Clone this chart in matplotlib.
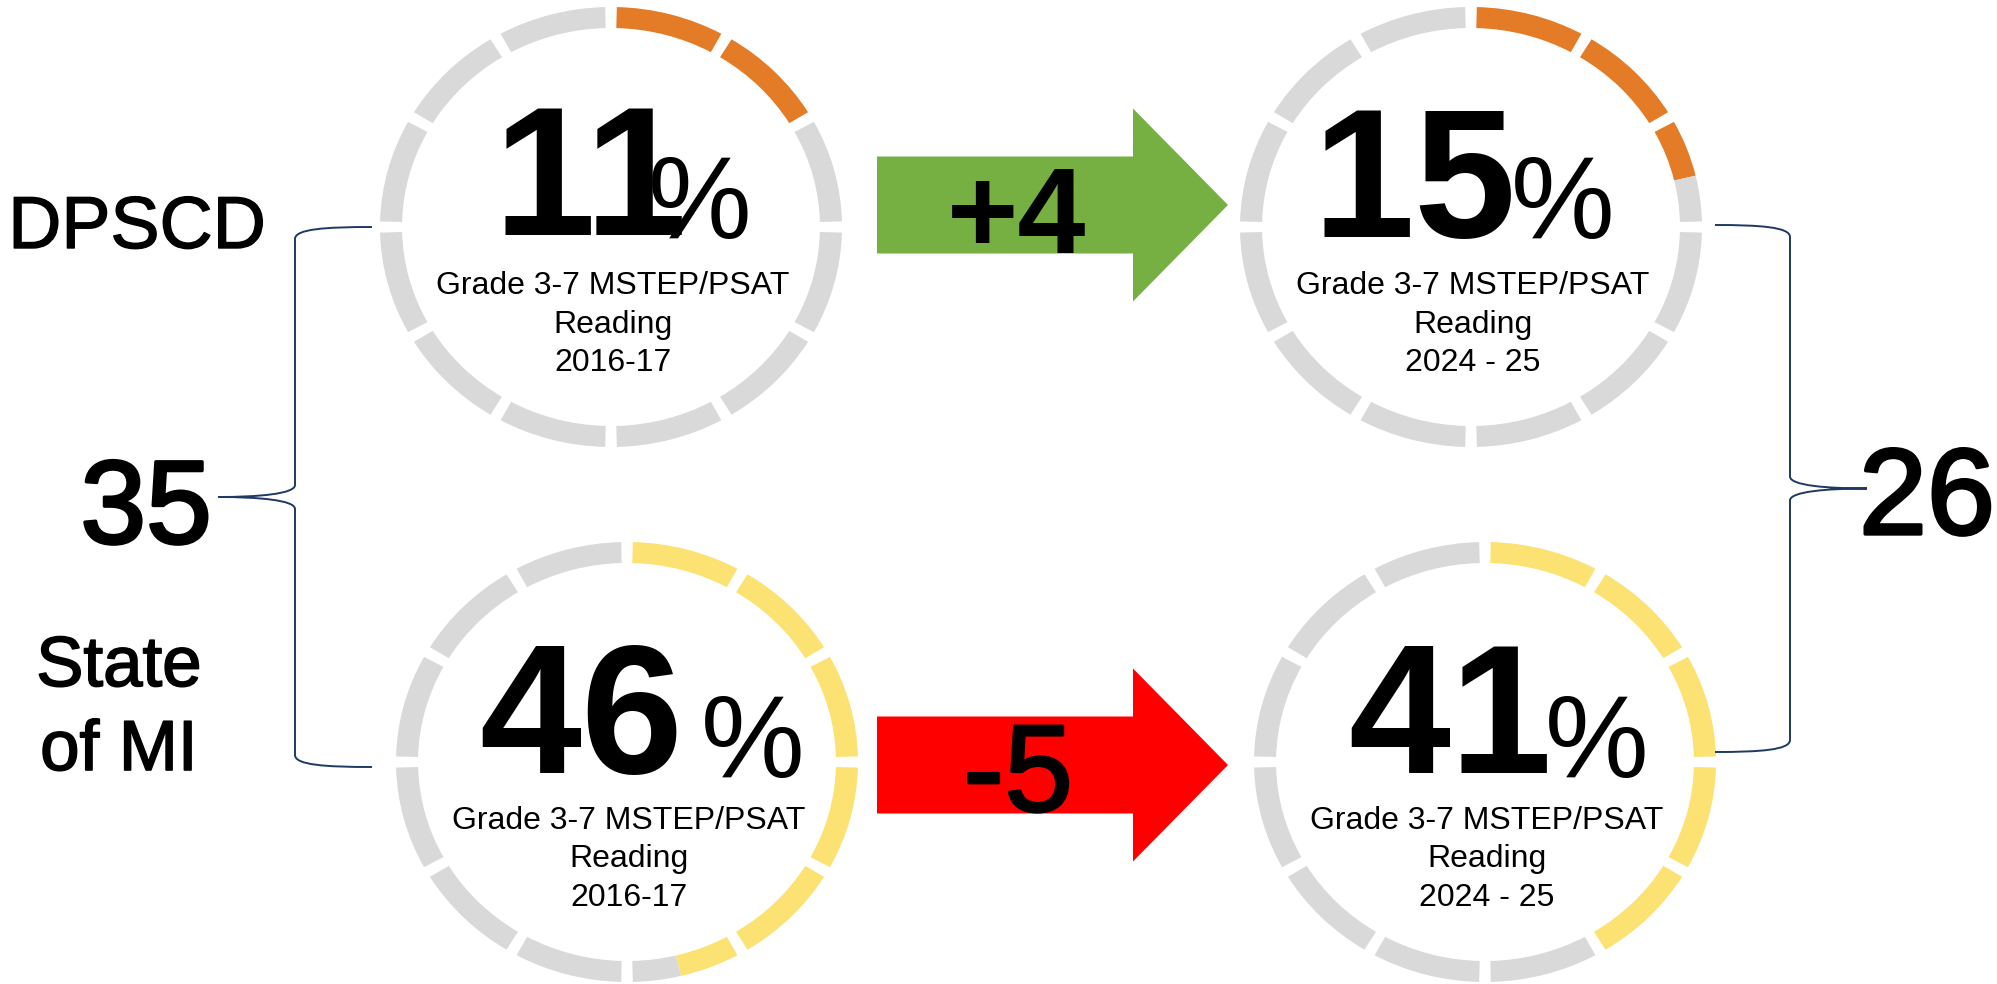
import matplotlib
matplotlib.use("Agg")
import matplotlib.pyplot as plt
from matplotlib import font_manager
import matplotlib.patheffects as pe
from matplotlib.patches import Wedge, FancyArrow, PathPatch
from matplotlib.path import Path
from matplotlib.transforms import Affine2D

plt.rcParams["font.family"] = ["Liberation Sans", "DejaVu Sans"]

# ---------------- data ----------------
groups = ["DPSCD", "State of MI"]
periods = ["2016-17", "2024 - 25"]
dpscd_pct = [11, 15]
state_pct = [46, 41]
# number of lit ring segments (out of 12) as drawn in the graphic
dpscd_ring_fill = [2.0, 2.55]
state_ring_fill = [5.55, 5.0]
changes = ["+4", "-5"]
gap_values = ["35", "26"]
subtitle_lines = ["Grade 3-7 MSTEP/PSAT", "Reading"]

# ---------------- style / layout ----------------
W, H = 1997, 984
GRAY = "#D9D9D9"
ORANGE = "#E37B27"
YELLOW = "#FBE273"
GREEN = "#76B043"
RED = "#FF0000"
NAVY = "#1F3864"
N_SEG = 12
RX, RY, THICK = 231, 220, 21
HALF_GAP = 1.45  # degrees

_names = {f.name for f in font_manager.fontManager.ttflist}
if "Liberation Sans Narrow" in _names:
    PCT_FAMILY, PCT_SIZE = ["Liberation Sans Narrow", "DejaVu Sans"], 90
else:
    PCT_FAMILY, PCT_SIZE = ["Liberation Sans", "DejaVu Sans"], 84


def heavy(lw):
    return [pe.withStroke(linewidth=lw, foreground="black")]


fig = plt.figure(figsize=(W / 100, H / 100), dpi=100)
ax = fig.add_axes([0, 0, 1, 1])
ax.set_xlim(0, W)
ax.set_ylim(H, 0)
ax.axis("off")

centers = [[(611, 227), (1471, 227)], [(627, 762), (1485, 762)]]
ring_colors = [ORANGE, YELLOW]
# (digits dx, digits dy, pct dx, pct dy) offsets from circle centre
num_offsets = [[(-21, 8, 89, 11), (-56, 10, 92, 11)],
               [(-46, 11, 126, 15), (-35, 11, 112, 15)]]
values = [dpscd_pct, state_pct]
fills = [dpscd_ring_fill, state_ring_fill]


def ring(cx, cy, fill, color):
    tr = Affine2D().scale(RX, -RY).translate(cx, cy) + ax.transData
    w = THICK / RY
    step = 360 / N_SEG
    for k in range(N_SEG):
        t2 = 90 - step * k - HALF_GAP
        t1 = 90 - step * (k + 1) + HALF_GAP
        if k + 1 <= fill:
            ax.add_patch(Wedge((0, 0), 1, t1, t2, width=w, color=color,
                               transform=tr, lw=0))
        elif k < fill:
            split = 90 - step * fill
            ax.add_patch(Wedge((0, 0), 1, split, t2, width=w, color=color,
                               transform=tr, lw=0))
            ax.add_patch(Wedge((0, 0), 1, t1, split, width=w, color=GRAY,
                               transform=tr, lw=0))
        else:
            ax.add_patch(Wedge((0, 0), 1, t1, t2, width=w, color=GRAY,
                               transform=tr, lw=0))


for g in range(2):
    for p in range(2):
        cx, cy = centers[g][p]
        ring(cx, cy, fills[g][p], ring_colors[g])
        ddx, ddy, pdx, pdy = num_offsets[g][p]
        ax.text(cx + ddx, cy + ddy, f"{values[g][p]}", ha="center",
                va="baseline", fontsize=132, fontweight="bold", color="black")
        ax.text(cx + pdx, cy + pdy, "%", ha="center", va="baseline",
                fontsize=PCT_SIZE, family=PCT_FAMILY, color="black")
        lines = subtitle_lines + [periods[p]]
        for i, ln in enumerate(lines):
            ax.text(cx + 2, cy + 67 + 38.5 * i, ln, ha="center",
                    va="baseline", fontsize=23, color="black")

# ---------------- change arrows ----------------
arrow_colors = [GREEN, RED]
arrow_y = [205, 765]
for i in range(2):
    ax.add_patch(FancyArrow(877, arrow_y[i], 351, 0, width=97,
                            head_width=193, head_length=95,
                            length_includes_head=True, color=arrow_colors[i],
                            lw=0))
ax.text(1017, 253, changes[0], ha="center", va="baseline", fontsize=88,
        fontweight="bold", color="black")
ax.text(1018, 811, changes[1], ha="center", va="baseline", fontsize=89,
        color="black", path_effects=heavy(2.0))

# ---------------- brackets ----------------
def brace(x_arm, x_v, x_tip, y_top, y_bot):
    ym = (y_top + y_bot) / 2
    s = 1 if x_arm > x_v else -1
    verts = [
        (x_arm, y_top),
        (x_v + s * 30, y_top), (x_v, y_top + 2), (x_v, y_top + 12),
        (x_v, ym - 12),
        (x_v, ym - 3), (x_tip + s * 40, ym), (x_tip, ym),
        (x_tip + s * 40, ym), (x_v, ym + 3), (x_v, ym + 12),
        (x_v, y_bot - 12),
        (x_v, y_bot - 2), (x_v + s * 30, y_bot), (x_arm, y_bot),
    ]
    codes = [Path.MOVETO,
             Path.CURVE4, Path.CURVE4, Path.CURVE4,
             Path.LINETO,
             Path.CURVE4, Path.CURVE4, Path.CURVE4,
             Path.CURVE4, Path.CURVE4, Path.CURVE4,
             Path.LINETO,
             Path.CURVE4, Path.CURVE4, Path.CURVE4]
    ax.add_patch(PathPatch(Path(verts, codes), fill=False, edgecolor=NAVY,
                           lw=1.4))


brace(372, 295, 218, 227, 767)
brace(1715, 1790, 1867, 225, 752)

ax.text(146, 543, gap_values[0], ha="center", va="baseline", fontsize=85,
        color="black", path_effects=heavy(2.4))
ax.text(1927, 534, gap_values[1], ha="center", va="baseline", fontsize=88,
        color="black", path_effects=heavy(2.4))

# ---------------- group labels ----------------
ax.text(137, 248, groups[0], ha="center", va="baseline", fontsize=53,
        color="black", path_effects=heavy(1.0))
state_words = groups[1].split(" ", 1)
ax.text(119, 686, state_words[0], ha="center", va="baseline", fontsize=51,
        color="black", path_effects=heavy(1.2))
ax.text(119, 770, state_words[1], ha="center", va="baseline", fontsize=51,
        color="black", path_effects=heavy(1.2))

fig.savefig("out.png", dpi=100)
